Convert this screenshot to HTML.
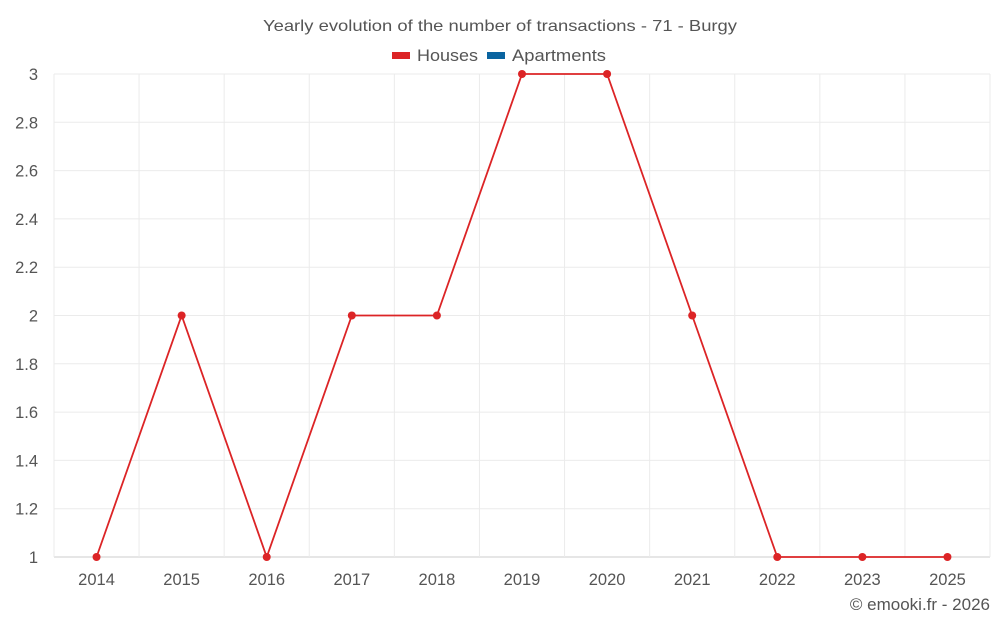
<!DOCTYPE html>
<html><head><meta charset="utf-8"><style>
body{margin:0;background:#fff;width:1000px;height:625px;overflow:hidden}
svg text{font-family:"Liberation Sans",sans-serif;fill:#555}
</style></head><body>
<svg id="chart" width="1000" height="625">
<text x="263" y="31" font-size="16" textLength="474" lengthAdjust="spacingAndGlyphs">Yearly evolution of the number of transactions - 71 - Burgy</text>
<g>
<g><rect x="392" y="52" width="18" height="7" fill="#dc2426"/><text x="417" y="61" font-size="17" textLength="61" lengthAdjust="spacingAndGlyphs">Houses</text></g>
<g><rect x="487" y="52" width="18" height="7" fill="#0a64a0"/><text x="512" y="61" font-size="17" textLength="94" lengthAdjust="spacingAndGlyphs">Apartments</text></g>
</g>
<g id="grid"></g>
<g id="axes"></g>
<g id="series"></g>
<text x="990" y="610" text-anchor="end" font-size="17">© emooki.fr - 2026</text>
</svg>
<script>
const categories=["2014","2015","2016","2017","2018","2019","2020","2021","2022","2023","2025"];
const houses=[1,2,1,2,2,3,3,2,1,1,1];
const yTicks=[1,1.2,1.4,1.6,1.8,2,2.2,2.4,2.6,2.8,3];
const L=54,R=990,T=74,B=557,yMin=1,yMax=3;
const bw=(R-L)/categories.length;
const xs=i=>L+bw*(i+0.5);
const ys=v=>B-(v-yMin)/(yMax-yMin)*(B-T);
const NS="http://www.w3.org/2000/svg";
function mk(tag,attrs,parent){const e=document.createElementNS(NS,tag);for(const k in attrs)e.setAttribute(k,attrs[k]);parent.appendChild(e);return e;}
const grid=document.getElementById('grid'),axes=document.getElementById('axes'),ser=document.getElementById('series');
yTicks.forEach(v=>{
  const l=mk('line',{x1:L,x2:R,y1:ys(v),y2:ys(v),stroke:v===yMin?'#ccc':'#ebebeb'},grid);
  
  
  const t=mk('text',{x:38,y:ys(v)+6,'text-anchor':'end','font-size':16.5},axes);
  t.textContent=String(v);
  
  
});
for(let i=0;i<=categories.length;i++){
  const l=mk('line',{x1:L+bw*i,x2:L+bw*i,y1:T,y2:B,stroke:'#ebebeb'},grid);
  
  
}
categories.forEach((c,i)=>{
  const t=mk('text',{x:xs(i),y:585,'text-anchor':'middle','font-size':16.5},axes);
  t.textContent=c;
  
  
});
const p=mk('polyline',{points:houses.map((v,i)=>xs(i)+','+ys(v)).join(' '),fill:'none',stroke:'#dc2426','stroke-width':1.8},ser);


houses.forEach((v,i)=>{
  const c=mk('circle',{cx:xs(i),cy:ys(v),r:4,fill:'#dc2426'},ser);
  
  
});
</script>
</body></html>
